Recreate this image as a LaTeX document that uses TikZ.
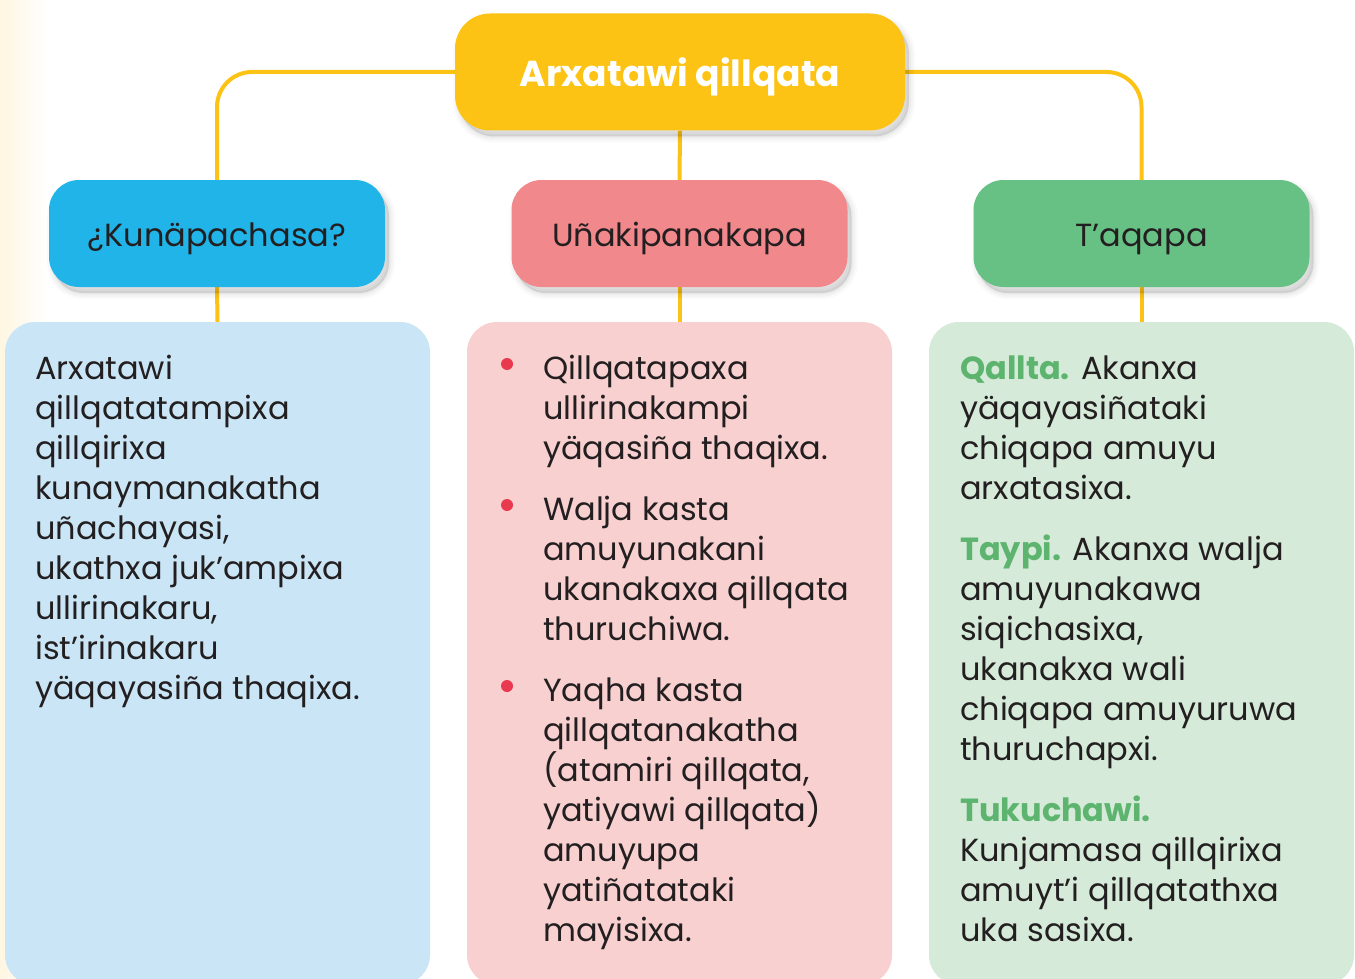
\documentclass[tikz,border=0pt]{standalone}
\usepackage{fontspec}
\setmainfont{Poppins}
\definecolor{cYellow}{HTML}{FDC314}
\definecolor{cBlue}{HTML}{20B4E8}
\definecolor{cPink}{HTML}{F0888C}
\definecolor{cGreen}{HTML}{68C184}
\definecolor{cLBlue}{HTML}{CAE6F6}
\definecolor{cLPink}{HTML}{F8D0D0}
\definecolor{cLGreen}{HTML}{D5EAD8}
\definecolor{cRed}{HTML}{E8394F}
\definecolor{cGText}{HTML}{5DB46E}
\definecolor{cText}{HTML}{231F20}
\definecolor{cCream}{HTML}{FFF6E2}
\pgfdeclarelayer{bg}
\pgfdeclarelayer{lines}
\pgfsetlayers{bg,lines,main}
\tikzset{
  softshadow/.style={
    preaction={fill=black, draw=black, line width=12pt, opacity=0.018, transform canvas={shift={(4pt,-6pt)}}},
    preaction={fill=black, draw=black, line width=8pt, opacity=0.025, transform canvas={shift={(4pt,-6pt)}}},
    preaction={fill=black, draw=black, line width=4pt, opacity=0.03, transform canvas={shift={(4pt,-6pt)}}},
    preaction={fill=black, opacity=0.04, transform canvas={shift={(4pt,-6pt)}}}},
  topbox/.style={fill=cYellow, rounded corners=35pt, minimum width=450pt, minimum height=117pt, inner sep=0pt, text=white, font=\fontsize{36}{40}\selectfont\bfseries, text height=29pt, text depth=0pt, softshadow},
  headbox/.style={rounded corners=30pt, minimum width=336pt, minimum height=107pt, inner sep=0pt, text=cText, font=\fontsize{32}{38}\selectfont, text height=25pt, text depth=0pt, softshadow},
  bodybox/.style={rounded corners=30pt, minimum width=425pt, minimum height=663pt, inner sep=0pt},
  bodytext/.style={anchor=base west, inner sep=0pt, text=cText, font=\fontsize{32}{40}\selectfont},
  link/.style={draw=cYellow, line width=4pt},
  dotmark/.style={circle, fill=cRed, minimum size=12pt, inner sep=0pt},
}
\newcommand{\glbl}[1]{\textcolor{cGText}{\bfseries #1}}
\begin{document}
\begin{tikzpicture}[x=1pt, y=-1pt]
\useasboundingbox (0,0) rectangle (1355,979);
\begin{pgfonlayer}{bg}
  \fill[white] (0,0) rectangle (1355,979);
  \fill[left color=cCream, right color=white] (0,0) rectangle (48,979);
\end{pgfonlayer}

% body boxes
\node[bodybox, fill=cLBlue]  (b1) at (217.5,653.5) {};
\node[bodybox, fill=cLPink]  (b2) at (679.5,653.5) {};
\node[bodybox, fill=cLGreen] (b3) at (1141.5,653.5) {};

% heading boxes
\node[topbox] (top) at (680,72) {Arxatawi qillqata};
\node[headbox, fill=cBlue]  (q1) at (217,233.5) {¿Kunäpachasa?};
\node[headbox, fill=cPink]  (q2) at (679.5,233.5) {Uñakipanakapa};
\node[headbox, fill=cGreen] (q3) at (1141.5,233.5) {T'aqapa};

% connectors
\begin{pgfonlayer}{lines}
  \draw[link, rounded corners=35pt] (top.west) -| (q1.north);
  \draw[link, rounded corners=35pt] (top.east) -| (q3.north);
  \draw[link] (top.south) -- (q2.north);
  \draw[link] (q1.south) -- (b1.north);
  \draw[link] (q2.south) -- (b2.north);
  \draw[link] (q3.south) -- (b3.north);
\end{pgfonlayer}

% left column text
\node[bodytext] (t1) at (35,379) {\parbox[t]{390pt}{\raggedright
Arxatawi\\
qillqatatampixa\\
qillqirixa\\
kunaymanakatha\\
uñachayasi,\\
ukathxa juk'ampixa\\
ullirinakaru,\\
ist'irinakaru\\
yäqayasiña thaqixa.}};

% middle column
\node[dotmark] (d1) at (507,364) {};
\node[dotmark] (d2) at (507,505) {};
\node[dotmark] (d3) at (507,686) {};
\node[bodytext] (t2a) at (543,379) {\parbox[t]{340pt}{\raggedright
Qillqatapaxa\\
ullirinakampi\\
yäqasiña thaqixa.}};
\node[bodytext] (t2b) at (543,520) {\parbox[t]{340pt}{\raggedright
Walja kasta\\
amuyunakani\\
ukanakaxa qillqata\\
thuruchiwa.}};
\node[bodytext] (t2c) at (543,701) {\parbox[t]{340pt}{\raggedright
Yaqha kasta\\
qillqatanakatha\\
(atamiri qillqata,\\
yatiyawi qillqata)\\
amuyupa\\
yatiñatataki\\
mayisixa.}};

% right column
\node[bodytext] (t3) at (960,379) {\parbox[t]{390pt}{\raggedright
\leavevmode\glbl{Qallta.} Akanxa\\
yäqayasiñataki\\
chiqapa amuyu\\
arxatasixa.\\[21pt]
\glbl{Taypi.} Akanxa walja\\
amuyunakawa\\
siqichasixa,\\
ukanakxa wali\\
chiqapa amuyuruwa\\
thuruchapxi.\\[21pt]
\glbl{Tukuchawi.}\\
Kunjamasa qillqirixa\\
amuyt'i qillqatathxa\\
uka sasixa.}};
\end{tikzpicture}
\end{document}
